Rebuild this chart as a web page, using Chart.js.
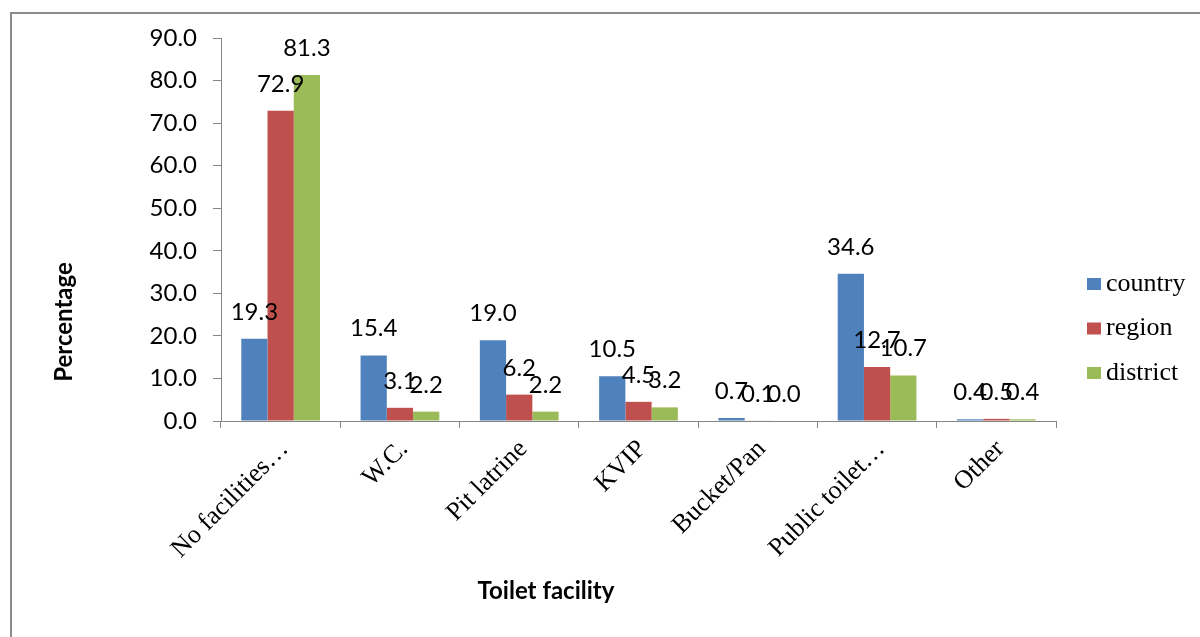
<!DOCTYPE html>
<html>
<head>
<meta charset="utf-8">
<script src="https://cdn.jsdelivr.net/npm/chart.js@4"></script>
<style>
    html, body { margin: 0; padding: 0; background: #fff; overflow: hidden; }
    #wrap { position: relative; width: 1200px; height: 637px; }
    #frame { position: absolute; left: 10px; top: 12px; width: 1300px; height: 800px; border: 2px solid #8c8c8c; box-sizing: border-box; }
    #toilet-chart { position: absolute; left: 0; top: 0; }
</style>
</head>
<body>
<div id="wrap">
    <div id="frame"></div>
    <canvas id="toilet-chart" width="1200" height="637"></canvas>
</div>
<script>
const categories = ["No facilities\u2026", "W.C.", "Pit latrine", "KVIP", "Bucket/Pan", "Public toilet\u2026", "Other"];
const countryValues = [19.3, 15.4, 19.0, 10.5, 0.7, 34.6, 0.4];
const regionValues = [72.9, 3.1, 6.2, 4.5, 0.1, 12.7, 0.5];
const districtValues = [81.3, 2.2, 2.2, 3.2, 0.0, 10.7, 0.4];
const yTicks = [0, 10, 20, 30, 40, 50, 60, 70, 80, 90];

const axisColor = "#868686";
const sansFont = "Lato, 'Liberation Sans', sans-serif";
const serifFont = "'Liberation Serif', 'DejaVu Serif', serif";

// value labels above every bar
const barValueLabels = {
    id: "barValueLabels",
    afterDatasetsDraw(chart) {
        const ctx = chart.ctx;
        ctx.save();
        ctx.font = "24px " + sansFont;
        ctx.fillStyle = "#000";
        ctx.textAlign = "center";
        ctx.textBaseline = "alphabetic";
        chart.data.datasets.forEach((dataset, i) => {
            const meta = chart.getDatasetMeta(i);
            meta.data.forEach((bar, j) => {
                ctx.fillText(dataset.data[j].toFixed(1), bar.x, bar.y - 19);
            });
        });
        ctx.restore();
    }
};

// axis titles and the legend on the right
const chartText = {
    id: "chartText",
    afterDraw(chart) {
        const ctx = chart.ctx;
        ctx.save();
        ctx.fillStyle = "#000";
        ctx.font = "bold 24px " + sansFont;
        ctx.textAlign = "center";
        ctx.textBaseline = "middle";
        ctx.fillText("Toilet facility", 546, 591);
        ctx.translate(64, 322);
        ctx.rotate(-Math.PI / 2);
        ctx.fillText("Percentage", 0, 0);
        ctx.restore();

        ctx.save();
        ctx.font = "26px " + serifFont;
        ctx.textAlign = "left";
        ctx.textBaseline = "middle";
        chart.data.datasets.forEach((dataset, i) => {
            const y = 284 + i * 44.5;
            ctx.fillStyle = dataset.backgroundColor;
            ctx.fillRect(1087, y - 6, 14, 12);
            ctx.fillStyle = "#000";
            ctx.fillText(dataset.label, 1106, y);
        });
        ctx.restore();
    }
};

new Chart(document.getElementById("toilet-chart"), {
    type: "bar",
    data: {
        labels: categories,
        datasets: [
            { label: "country", data: countryValues, backgroundColor: "#4F81BD" },
            { label: "region", data: regionValues, backgroundColor: "#C0504D" },
            { label: "district", data: districtValues, backgroundColor: "#9BBB59" }
        ]
    },
    options: {
        responsive: false,
        animation: false,
        categoryPercentage: 0.66,
        barPercentage: 1,
        layout: { padding: { left: 10, top: 38, right: 144, bottom: 0 } },
        plugins: {
            legend: { display: false },
            tooltip: { enabled: false }
        },
        scales: {
            x: {
                afterFit: (scale) => { scale.height = 216; },
                grid: { drawOnChartArea: false, offset: true, tickLength: 7, color: axisColor },
                border: { color: axisColor },
                ticks: {
                    autoSkip: false,
                    minRotation: 45,
                    maxRotation: 45,
                    padding: 6,
                    labelOffset: 4,
                    color: "#000",
                    font: { family: serifFont, size: 26 }
                }
            },
            y: {
                min: 0,
                max: 90,
                afterFit: (scale) => { scale.width = 211; },
                afterBuildTicks: (scale) => { scale.ticks = yTicks.map((v) => ({ value: v })); },
                grid: { drawOnChartArea: false, tickLength: 8, color: axisColor },
                border: { color: axisColor },
                ticks: {
                    padding: 16,
                    color: "#000",
                    font: { family: sansFont, size: 24 },
                    callback: (value) => Number(value).toFixed(1)
                }
            }
        }
    },
    plugins: [barValueLabels, chartText]
});
</script>
</body>
</html>
